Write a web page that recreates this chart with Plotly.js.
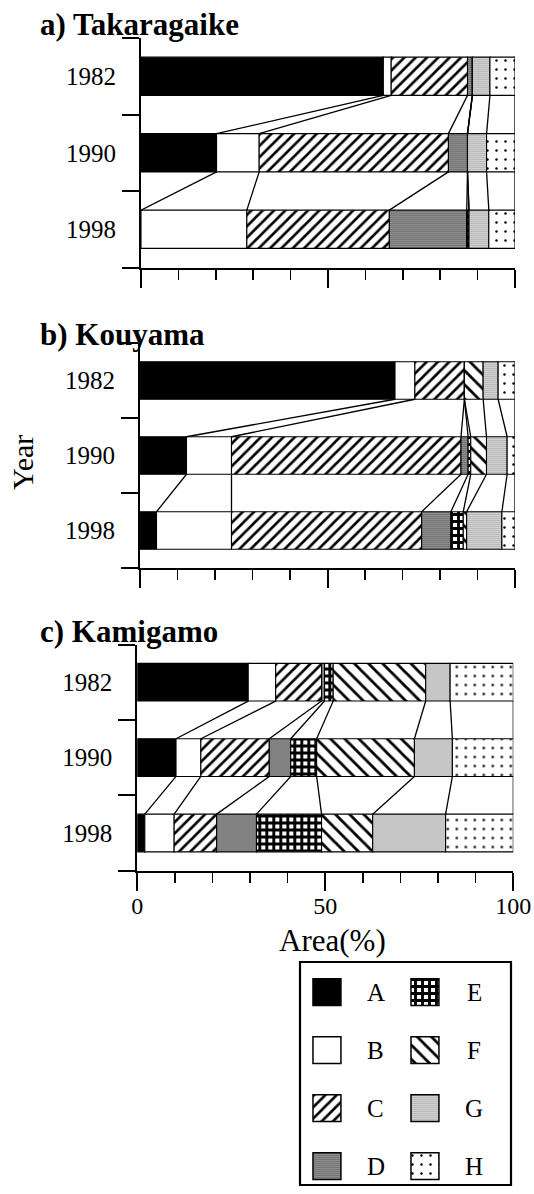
<!DOCTYPE html>
<html>
<head>
<meta charset="utf-8">
<script src="https://cdn.plot.ly/plotly-3.0.1.min.js"></script>
<style>
  html, body { margin: 0; padding: 0; background: #fff; }
  #chart { width: 534px; height: 1194px; }
</style>
</head>
<body>
<div id="chart"></div>
<script>
// ---------------- DATA ----------------
const categories = ['A', 'B', 'C', 'D', 'E', 'F', 'G', 'H'];
const years = ['1982', '1990', '1998'];
const panelTitles = ['a) Takaragaike', 'b) Kouyama', 'c) Kamigamo'];

// area share (%) of each category A..H, per site and year
const takaragaike1982 = [64.8, 2.1, 20.4, 1.3, 0, 0, 4.7, 6.7];
const takaragaike1990 = [20.2, 11.4, 50.6, 5.1, 0, 0, 5.1, 7.6];
const takaragaike1998 = [0, 28.3, 38.1, 20.7, 0.6, 0, 5.3, 7.0];

const kouyama1982 = [68.0, 5.3, 13.2, 0, 0, 5.0, 4.0, 4.5];
const kouyama1990 = [12.4, 12.0, 61.2, 1.9, 0.7, 4.2, 5.5, 2.1];
const kouyama1998 = [4.4, 20.0, 50.7, 7.8, 3.3, 0.9, 9.4, 3.5];

const kamigamo1982 = [29.5, 7.3, 12.2, 0.8, 2.3, 24.6, 6.5, 16.8];
const kamigamo1990 = [10.3, 6.6, 18.2, 5.7, 6.9, 26.0, 10.1, 16.2];
const kamigamo1998 = [2.0, 7.8, 11.3, 10.6, 17.3, 13.6, 19.4, 18.0];

const xTickVals = [0, 50, 100];
const xTickText = ['0', '50', '100'];

// ---------------- STYLES ----------------
const SERIF = 'Liberation Serif, Times New Roman, serif';
const catStyle = {
  A: { color: 'black' },
  B: { color: 'white' },
  C: { color: 'white', pattern: { shape: '/', fgcolor: 'black', bgcolor: 'white', size: 8, solidity: 0.33 } },
  D: { color: 'white', pattern: { shape: '.', fgcolor: 'black', bgcolor: 'white', size: 2, solidity: 0.55 } },
  E: { color: 'white', pattern: { shape: '+', fgcolor: 'black', bgcolor: 'white', size: 7, solidity: 0.65 } },
  F: { color: 'white', pattern: { shape: '\\', fgcolor: 'black', bgcolor: 'white', size: 10, solidity: 0.28 } },
  G: { color: 'white', pattern: { shape: '.', fgcolor: 'black', bgcolor: 'white', size: 2, solidity: 0.28 } },
  H: { color: 'white', pattern: { shape: '.', fgcolor: 'black', bgcolor: 'white', size: 9, solidity: 0.06 } }
};

const panels = [
  { rows: [takaragaike1982, takaragaike1990, takaragaike1998], xa: 'x',  ya: 'y'  },
  { rows: [kouyama1982, kouyama1990, kouyama1998],             xa: 'x2', ya: 'y2' },
  { rows: [kamigamo1982, kamigamo1990, kamigamo1998],          xa: 'x3', ya: 'y3' }
];

const W = 534, H = 1194;
const px = v => v / W;
const py = v => 1 - v / H;

const panelGeom = [
  { x0: 141, x1: 515, top: 38,    bottom: 267.5, titleY: 25 },
  { x0: 140, x1: 515, top: 343,   bottom: 568,   titleY: 334 },
  { x0: 137.3, x1: 513.3, top: 644.5, bottom: 870.7, titleY: 631 }
];

const BAR_W = 0.5;
const traces = [];

function cumulative(row) {
  const out = [0];
  row.forEach(v => out.push(out[out.length - 1] + v));
  return out;
}

panels.forEach((p, pi) => {
  const cums = p.rows.map(cumulative);
  // stacked bars via explicit base
  categories.forEach((c, ci) => {
    const st = catStyle[c];
    const marker = { color: st.color, line: { color: 'black', width: 1.1 } };
    if (st.pattern) marker.pattern = Object.assign({ fillmode: 'replace' }, st.pattern);
    traces.push({
      type: 'bar', orientation: 'h',
      y: years.map((_, yi) => yi),
      x: p.rows.map(r => r[ci]),
      base: cums.map(cm => cm[ci]),
      width: BAR_W,
      marker: marker,
      xaxis: p.xa, yaxis: p.ya,
      showlegend: false, hoverinfo: 'skip'
    });
  });
  // connector lines between successive years
  const lx = [], ly = [];
  for (let yi = 0; yi < years.length - 1; yi++) {
    for (let k = 1; k <= categories.length; k++) {
      lx.push(cums[yi][k], cums[yi + 1][k], null);
      ly.push(yi + BAR_W / 2, yi + 1 - BAR_W / 2, null);
    }
  }
  traces.push({
    type: 'scatter', mode: 'lines', x: lx, y: ly,
    line: { color: 'black', width: 1.3 },
    xaxis: p.xa, yaxis: p.ya, showlegend: false, hoverinfo: 'skip'
  });
});

// ---------------- custom legend (subplot x4/y4) ----------------
const legendAnn = [];
categories.forEach((c, ci) => {
  const col = Math.floor(ci / 4), row = ci % 4;
  const st = catStyle[c];
  const marker = { color: st.color, line: { color: 'black', width: 1.5 } };
  if (st.pattern) marker.pattern = Object.assign({ fillmode: 'replace' }, st.pattern);
  const yc = 0.54 + 1.04 * row;
  traces.push({
    type: 'bar', orientation: 'h',
    y: [yc], x: [0.265], base: [0.123 + col * 0.929], width: 0.48,
    marker: marker, xaxis: 'x4', yaxis: 'y4', showlegend: false, hoverinfo: 'skip'
  });
  legendAnn.push({
    xref: 'x4', yref: 'y4', x: 0.72 + col * 0.93, y: yc, text: c, showarrow: false,
    xanchor: 'center', yanchor: 'middle', font: { family: SERIF, size: 25, color: 'black' }
  });
});

// ---------------- LAYOUT ----------------
const layout = {
  width: W, height: H,
  margin: { l: 0, r: 0, t: 0, b: 0 },
  paper_bgcolor: 'white', plot_bgcolor: 'rgba(0,0,0,0)',
  barmode: 'overlay',
  showlegend: false,
  annotations: [],
  shapes: [{
    type: 'rect', xref: 'paper', yref: 'paper',
    x0: px(300), x1: px(511), y0: py(1185), y1: py(962),
    line: { color: 'black', width: 2.2 }, fillcolor: 'rgba(0,0,0,0)'
  }]
};

panelGeom.forEach((g, pi) => {
  const sfx = pi === 0 ? '' : String(pi + 1);
  layout['xaxis' + sfx] = {
    domain: [px(g.x0), px(g.x1)], range: [0, 100], anchor: 'y' + sfx,
    tickmode: 'array', tickvals: xTickVals, ticktext: xTickText,
    ticks: 'outside', ticklen: 18, tickwidth: 2, tickcolor: 'black',
    showline: true, linewidth: 2, linecolor: 'black',
    showgrid: false, zeroline: false, fixedrange: true,
    showticklabels: pi === 2, ticklabelstandoff: -6,
    tickfont: { family: SERIF, size: 24, color: 'black' },
    minor: { tickmode: 'linear', tick0: 0, dtick: 10, ticks: 'outside', ticklen: 10, tickwidth: 1.5, tickcolor: 'black', showgrid: false }
  };
  layout['yaxis' + sfx] = {
    domain: [py(g.bottom), py(g.top)], range: [2.5, -0.5], anchor: 'x' + sfx,
    tickmode: 'array', tickvals: years.map((_, i) => i), ticktext: years,
    ticks: '', ticklen: 0,
    showline: true, linewidth: 2, linecolor: 'black',
    showgrid: false, zeroline: false, fixedrange: true,
    ticklabelstandoff: 18,
    tickfont: { family: SERIF, size: 25, color: 'black' },
    minor: { tickmode: 'array', tickvals: [-0.5, 0.5, 1.5, 2.5], ticks: 'outside', ticklen: 17, tickwidth: 2, tickcolor: 'black', showgrid: false }
  };
  layout.annotations.push({
    xref: 'paper', yref: 'paper', x: px(38), y: py(g.titleY),
    xanchor: 'left', yanchor: 'middle', showarrow: false,
    text: '<b>' + panelTitles[pi] + '</b>',
    font: { family: SERIF, size: 31, color: 'black' }
  });
});

layout.xaxis4 = { domain: [px(300), px(511)], range: [0, 2], anchor: 'y4', visible: false, fixedrange: true };
layout.yaxis4 = { domain: [py(1185), py(962)], range: [4, 0], anchor: 'x4', visible: false, fixedrange: true };

layout.annotations.push({
  xref: 'paper', yref: 'paper', x: px(22), y: py(462), textangle: -90,
  xanchor: 'center', yanchor: 'middle', showarrow: false, text: 'Year',
  font: { family: SERIF, size: 30, color: 'black' }
});
layout.annotations.push({
  xref: 'paper', yref: 'paper', x: px(332), y: py(941),
  xanchor: 'center', yanchor: 'middle', showarrow: false, text: 'Area(%)',
  font: { family: SERIF, size: 31, color: 'black' }
});
layout.annotations = layout.annotations.concat(legendAnn);

Plotly.newPlot('chart', traces, layout, { staticPlot: true, displayModeBar: false });
</script>
</body>
</html>
